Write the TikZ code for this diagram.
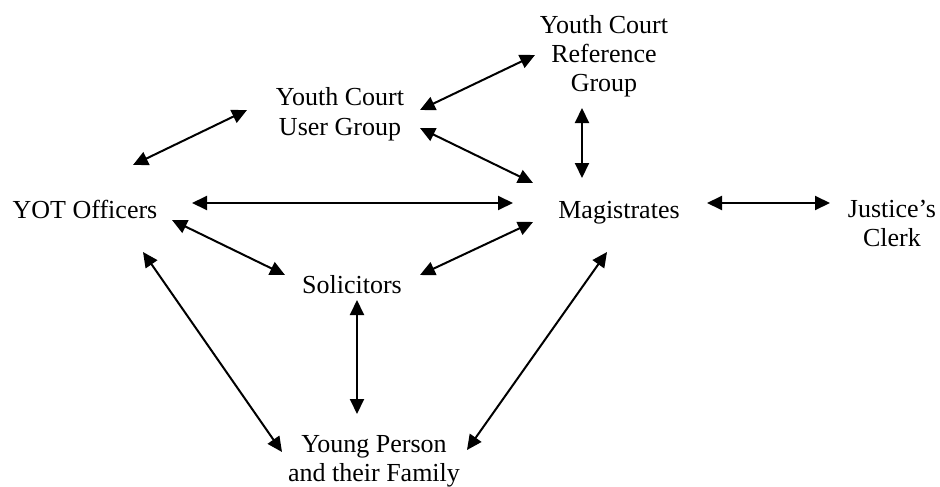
\documentclass[tikz,border=0pt]{standalone}
\usepackage{fontspec}
\setmainfont{Liberation Serif}
\usetikzlibrary{arrows.meta}
\begin{document}
\begin{tikzpicture}[x=1pt,y=-1pt,
  lbl/.style={anchor=base,align=center,inner sep=0pt,font=\fontsize{26}{29}\selectfont},
  link/.style={{Triangle[length=15pt,width=14pt]}-{Triangle[length=15pt,width=14pt]},line width=2pt}]
\useasboundingbox (0,0) rectangle (940,487);
% nodes (base anchor = baseline of the last line)
\node[lbl] (yot) at (85,218) {YOT Officers};
\node[lbl] (ug) at (340,135) {Youth Court\\User Group};
\node[lbl] (ref) at (604,92) {Youth Court\\Reference\\Group};
\node[lbl] (mag) at (619,218) {Magistrates};
\node[lbl] (jc) at (892,246) {Justice's\\Clerk};
\node[lbl] (sol) at (352,293) {Solicitors};
\node[lbl] (yp) at (374,481) {Young Person\\and their Family};
% connector ends
\coordinate (yotA) at (133,165); \coordinate (ugA) at (247,110);
\coordinate (ugB) at (420,110); \coordinate (refA) at (535,55);
\coordinate (ugC) at (420,128); \coordinate (magA) at (533,183);
\coordinate (refB) at (582,108); \coordinate (magB) at (582,178);
\coordinate (yotB) at (192,203); \coordinate (magC) at (513,203);
\coordinate (yotC) at (172,220); \coordinate (solA) at (285,275);
\coordinate (solB) at (420,275); \coordinate (magD) at (533,222);
\coordinate (solC) at (357,300); \coordinate (ypA) at (357,414);
\coordinate (yotD) at (143,252); \coordinate (ypB) at (282,452);
\coordinate (magE) at (607,252); \coordinate (ypC) at (467,450);
\coordinate (magF) at (707,203); \coordinate (jcA) at (830,203);
% connectors
\draw[link] (yotA) -- (ugA);
\draw[link] (ugB) -- (refA);
\draw[link] (ugC) -- (magA);
\draw[link] (refB) -- (magB);
\draw[link] (yotB) -- (magC);
\draw[link] (yotC) -- (solA);
\draw[link] (solB) -- (magD);
\draw[link] (solC) -- (ypA);
\draw[link] (yotD) -- (ypB);
\draw[link] (magE) -- (ypC);
\draw[link] (magF) -- (jcA);
\end{tikzpicture}
\end{document}
